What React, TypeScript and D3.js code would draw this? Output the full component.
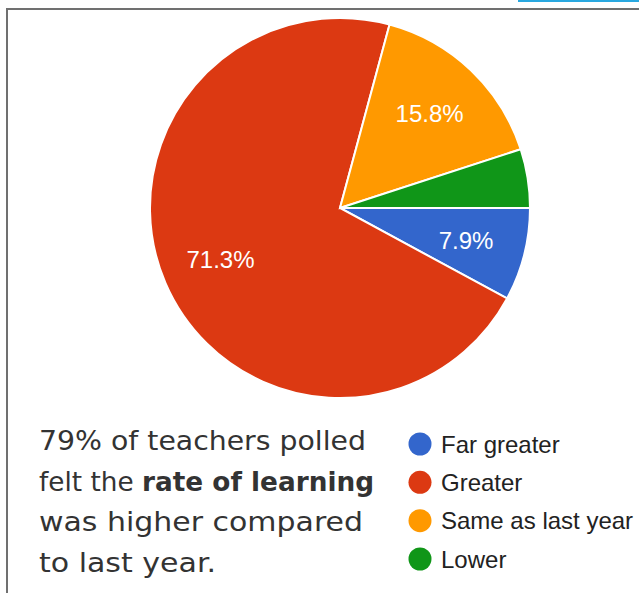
import React, { useEffect, useRef } from "react";
import * as d3 from "d3";

const categories = ["Far greater", "Greater", "Same as last year", "Lower"];
const shares = [7.9, 71.3, 15.8, 5.0];
const sliceColors = ["#3366cc", "#dc3912", "#ff9900", "#109618"];
const captionLines = [
  [{ t: "79% of teachers polled", b: false }],
  [
    { t: "felt the ", b: false },
    { t: "rate of learning", b: true },
  ],
  [{ t: "was higher compared", b: false }],
  [{ t: "to last year.", b: false }],
];
const captionWidths = [327, 335, 324, 177];

const App = () => {
  const svgRef = useRef<SVGSVGElement>(null);

  useEffect(() => {
    const width = 639;
    const height = 593;
    const svg = d3.select(svgRef.current);
    svg.selectAll("*").remove();
    svg.attr("width", width).attr("height", height);

    svg.append("rect").attr("width", width).attr("height", height).attr("fill", "#fff");

    // card frame + little blue bar top right
    svg
      .append("path")
      .attr("d", `M7,${height + 5} V9 H${width + 5}`)
      .attr("fill", "none")
      .attr("stroke", "#707070")
      .attr("stroke-width", 2);
    svg.append("rect").attr("x", 518).attr("y", 0).attr("width", 121).attr("height", 2).attr("fill", "#29a8e0");

    const cx = 340;
    const cy = 208;
    const radius = 190;

    const pie = d3
      .pie<number>()
      .sort(null)
      .value((d) => d)
      .startAngle(Math.PI / 2)
      .endAngle(Math.PI / 2 + 2 * Math.PI);
    const arcs = pie(shares);
    const arc = d3.arc<d3.PieArcDatum<number>>().innerRadius(0).outerRadius(radius);
    const labelArc = d3.arc<d3.PieArcDatum<number>>().innerRadius(130).outerRadius(130);

    const g = svg.append("g").attr("transform", `translate(${cx},${cy})`);
    g.selectAll("path")
      .data(arcs)
      .enter()
      .append("path")
      .attr("d", arc)
      .attr("fill", (_, i) => sliceColors[i])
      .attr("stroke", "#fff")
      .attr("stroke-width", 2);

    g.selectAll("text")
      .data(arcs.filter((d) => d.value >= 7))
      .enter()
      .append("text")
      .attr("transform", (d) => `translate(${labelArc.centroid(d)})`)
      .attr("dy", "0.36em")
      .attr("text-anchor", "middle")
      .attr("fill", "#fff")
      .style("font-family", "Liberation Sans, Arial, sans-serif")
      .style("font-size", "24px")
      .text((d) => `${d.value.toFixed(1)}%`);

    // legend
    const legendY = d3.scalePoint<string>().domain(categories).range([444, 559]);
    const legend = svg
      .selectAll("g.leg")
      .data(categories)
      .enter()
      .append("g")
      .attr("class", "leg")
      .attr("transform", (d) => `translate(420,${legendY(d)})`);
    legend.append("circle").attr("r", 11.5).attr("fill", (_, i) => sliceColors[i]);
    legend
      .append("text")
      .attr("x", 21)
      .attr("dy", "0.36em")
      .attr("fill", "#222")
      .style("font-family", "Liberation Sans, Arial, sans-serif")
      .style("font-size", "24px")
      .text((d) => d);

    // caption, one text per line so each can be fitted to the original width
    const lineY = d3.scaleLinear().domain([0, captionLines.length - 1]).range([450, 572]);
    captionLines.forEach((line, i) => {
      const t = svg
        .append("text")
        .attr("x", 39)
        .attr("y", lineY(i))
        .attr("fill", "#333")
        .attr("textLength", captionWidths[i])
        .attr("lengthAdjust", "spacingAndGlyphs")
        .style("font-family", "DejaVu Sans, sans-serif")
        .style("font-size", "27px");
      line.forEach((part) => {
        const ts = t.append("tspan").text(part.t);
        if (part.b) ts.style("font-weight", "700");
      });
    });
  }, []);

  return (
    <div style={{ position: "absolute", left: 0, top: 0 }}>
      <svg ref={svgRef} style={{ display: "block" }}></svg>
    </div>
  );
};

export default App;
